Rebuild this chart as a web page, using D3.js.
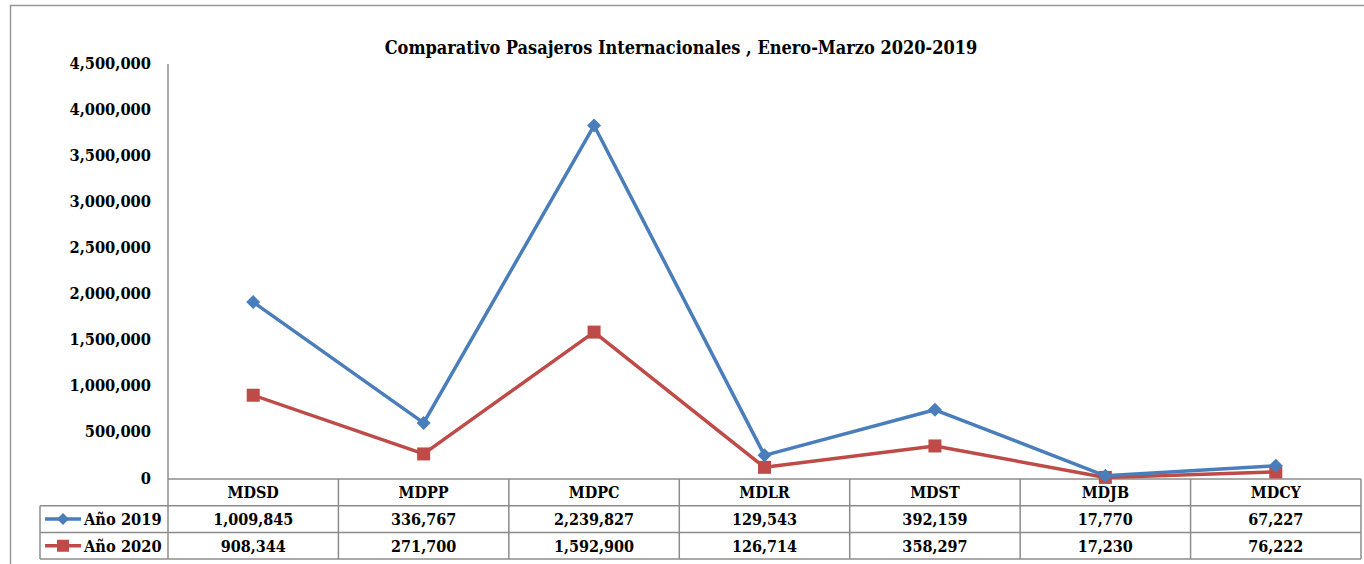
<!DOCTYPE html>
<html>
<head>
<meta charset="utf-8">
<script src="https://cdn.jsdelivr.net/npm/d3@7"></script>
<style>
  body { margin: 0; background: #fff; }
  svg text { font-family: "DejaVu Serif Condensed", "DejaVu Serif", serif; font-weight: bold; fill: #000; }
</style>
</head>
<body>
<div id="chart"></div>
<script>
(function () {
    'use strict';

    var categories = ['MDSD', 'MDPP', 'MDPC', 'MDLR', 'MDST', 'MDJB', 'MDCY'];
    var values2019 = [1009845, 336767, 2239827, 129543, 392159, 17770, 67227];
    var values2020 = [908344, 271700, 1592900, 126714, 358297, 17230, 76222];
    var seriesNames = ['Año 2019', 'Año 2020'];
    var yTicks = [0, 500000, 1000000, 1500000, 2000000, 2500000, 3000000, 3500000, 4000000, 4500000];
    var title = 'Comparativo Pasajeros Internacionales , Enero-Marzo 2020-2019';

    var width = 1364, height = 564;
    var left = 168, right = 1361, top = 64, bottom = 479;
    var rowH = 26.7;
    var legendLeft = 40;
    var blue = '#4a7ebb', red = '#be4b48', gridGray = '#8c8c8c';

    var svg = d3.select('#chart').append('svg')
        .attr('width', width)
        .attr('height', height);

    // outer frame
    svg.append('rect')
        .attr('x', 10.5).attr('y', 5.5)
        .attr('width', width + 20).attr('height', height + 20)
        .style('fill', 'none').style('stroke', '#999').style('stroke-width', 1.5);

    svg.append('text')
        .attr('x', 681).attr('y', 54)
        .attr('text-anchor', 'middle')
        .style('font-size', '18px')
        .text(title);

    var x = d3.scaleBand().domain(categories).range([left, right]);
    var y = d3.scaleLinear().domain([0, 4500000]).range([bottom, top]);

    // y axis labels
    var fmt = d3.format(',');
    var yAxis = d3.axisLeft(y).tickValues(yTicks).tickFormat(fmt).tickSize(0).tickPadding(17);
    var yg = svg.append('g').attr('transform', 'translate(' + left + ',0)').call(yAxis);
    yg.select('.domain').remove();
    yg.selectAll('text').style('font-size', '16.3px').style('font-family', null).attr('dy', '0.25em');

    // table / axis lines
    var grid = svg.append('g').style('stroke', gridGray).style('stroke-width', 1.5).style('fill', 'none');
    grid.append('line').attr('x1', left).attr('x2', left).attr('y1', top).attr('y2', bottom + rowH * 3);
    grid.append('line').attr('x1', left).attr('x2', right).attr('y1', bottom).attr('y2', bottom);
    [1, 2, 3].forEach(function (r) {
        grid.append('line')
            .attr('x1', legendLeft).attr('x2', right)
            .attr('y1', bottom + rowH * r).attr('y2', bottom + rowH * r);
    });
    grid.append('line').attr('x1', legendLeft).attr('x2', legendLeft)
        .attr('y1', bottom + rowH).attr('y2', bottom + rowH * 3);
    categories.forEach(function (c) {
        grid.append('line')
            .attr('x1', x(c) + x.bandwidth()).attr('x2', x(c) + x.bandwidth())
            .attr('y1', bottom).attr('y2', bottom + rowH * 3);
    });

    // header and values
    var tbl = svg.append('g').style('font-size', '16px');
    categories.forEach(function (c, i) {
        var cx = x(c) + x.bandwidth() / 2;
        tbl.append('text').attr('x', cx).attr('y', bottom + rowH * 0.5).attr('dy', '0.36em')
            .attr('text-anchor', 'middle').text(c);
        tbl.append('text').attr('x', cx).attr('y', bottom + rowH * 1.5).attr('dy', '0.36em')
            .attr('text-anchor', 'middle').text(fmt(values2019[i]));
        tbl.append('text').attr('x', cx).attr('y', bottom + rowH * 2.5).attr('dy', '0.36em')
            .attr('text-anchor', 'middle').text(fmt(values2020[i]));
    });

    // stacked lines: 2020 at bottom, 2019 on top of it
    var stacked2019 = values2019.map(function (v, i) { return v + values2020[i]; });

    var line = d3.line()
        .x(function (d, i) { return x(categories[i]) + x.bandwidth() / 2; })
        .y(function (d) { return y(d); });

    function diamond(g, cx, cy, s, color) {
        g.append('path')
            .attr('d', 'M' + cx + ',' + (cy - s) + 'L' + (cx + s) + ',' + cy + 'L' + cx + ',' + (cy + s) + 'L' + (cx - s) + ',' + cy + 'Z')
            .style('fill', color);
    }
    function square(g, cx, cy, s, color) {
        g.append('rect').attr('x', cx - s).attr('y', cy - s)
            .attr('width', s * 2).attr('height', s * 2).style('fill', color);
    }

    var red2020 = svg.append('g');
    red2020.append('path').datum(values2020).attr('d', line)
        .style('fill', 'none').style('stroke', red).style('stroke-width', 3.5).style('stroke-linejoin', 'round');
    values2020.forEach(function (v, i) {
        square(red2020, x(categories[i]) + x.bandwidth() / 2, y(v), 6.5, red);
    });

    var blue2019 = svg.append('g');
    blue2019.append('path').datum(stacked2019).attr('d', line)
        .style('fill', 'none').style('stroke', blue).style('stroke-width', 3.5).style('stroke-linejoin', 'round');
    stacked2019.forEach(function (v, i) {
        diamond(blue2019, x(categories[i]) + x.bandwidth() / 2, y(v), 7, blue);
    });

    // legend keys in the table
    var keys = [{ name: seriesNames[0], color: blue, shape: diamond },
                { name: seriesNames[1], color: red, shape: square }];
    keys.forEach(function (k, r) {
        var cy = bottom + rowH * (r + 1.5);
        svg.append('line').attr('x1', 45).attr('x2', 81).attr('y1', cy).attr('y2', cy)
            .style('stroke', k.color).style('stroke-width', 3.5);
        k.shape(svg, 63, cy, 6, k.color);
        svg.append('text').attr('x', 84).attr('y', cy).attr('dy', '0.36em')
            .style('font-size', '16.3px').text(k.name);
    });
})();
</script>
</body>
</html>
